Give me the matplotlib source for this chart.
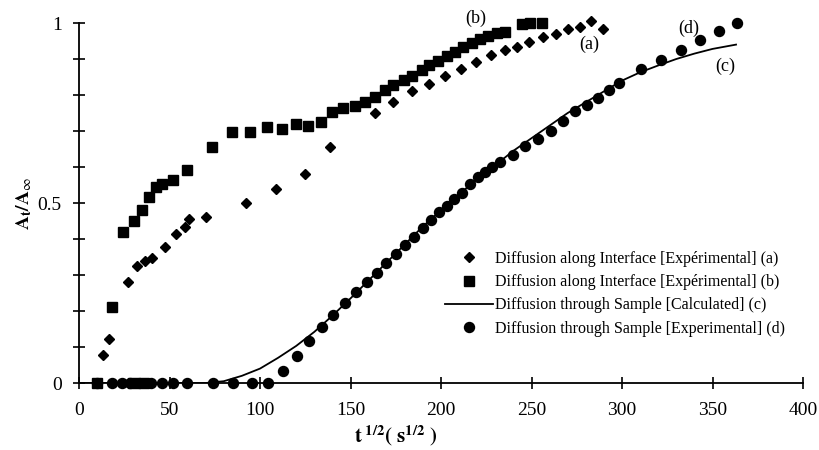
import matplotlib
matplotlib.use("Agg")
import matplotlib.pyplot as plt

plt.rcParams['font.family'] = ['Liberation Serif', 'DejaVu Serif']
plt.rcParams['mathtext.fontset'] = 'stix'

# (a) Diffusion along interface [experimental] - diamonds
a_x = [13.4, 16.6, 27.3, 32.2, 36.5, 40.5, 47.5, 53.4, 58.6, 60.8, 70.2, 92.1, 109.0,
       124.9, 138.7, 163.5, 173.7, 183.8, 193.6, 202.2, 210.9, 219.3, 227.4, 235.4,
       242.2, 248.5, 256.5, 263.5, 270.3, 276.9, 282.9, 289.7]
a_y = [0.078, 0.121, 0.28, 0.325, 0.34, 0.346, 0.377, 0.413, 0.434, 0.455, 0.462, 0.5,
       0.54, 0.58, 0.655, 0.75, 0.78, 0.81, 0.83, 0.853, 0.872, 0.893, 0.911, 0.925,
       0.934, 0.947, 0.962, 0.969, 0.982, 0.99, 1.005, 0.982]

# (b) Diffusion along interface [experimental] - squares
b_x = [10.0, 30.0, 36.0, 18.1, 24.5, 30.4, 34.6, 38.5, 42.5, 45.7, 52.1, 59.5, 73.6,
       84.7, 94.5, 103.7, 112.0, 119.9, 126.7, 133.5, 140.0, 146.0, 152.5, 158.0,
       163.5, 169.0, 173.7, 179.3, 183.8, 189.3, 193.6, 198.5, 203.2, 207.7, 212.3,
       216.9, 221.5, 226.1, 230.8, 235.4, 244.6, 249.0, 256.0]
b_y = [0.0, 0.0, 0.0, 0.21, 0.42, 0.451, 0.48, 0.518, 0.545, 0.552, 0.563, 0.592, 0.655,
       0.698, 0.698, 0.71, 0.705, 0.719, 0.714, 0.726, 0.752, 0.763, 0.769, 0.781,
       0.795, 0.814, 0.828, 0.842, 0.853, 0.869, 0.883, 0.895, 0.908, 0.92, 0.932,
       0.944, 0.955, 0.964, 0.971, 0.976, 0.997, 1.0, 1.0]

# (c) Diffusion through sample [calculated] - line
c_x = [0, 70, 80, 90, 100, 110, 120, 130, 140, 150, 160, 170, 180, 190, 200, 210, 220,
       230, 240, 250, 260, 270, 280, 290, 300, 310, 320, 330, 340, 350, 363]
c_y = [0.0, 0.0, 0.005, 0.02, 0.04, 0.07, 0.103, 0.142, 0.187, 0.235, 0.285, 0.335,
       0.385, 0.435, 0.48, 0.525, 0.565, 0.605, 0.645, 0.68, 0.715, 0.75, 0.78, 0.81,
       0.84, 0.863, 0.882, 0.9, 0.915, 0.928, 0.94]

# (d) Diffusion through sample [experimental] - circles
d_x = [10.0, 18.0, 23.5, 28.0, 33.0, 40.0, 45.7, 52.1, 59.5, 74.3, 85.3, 95.4, 104.6,
       112.5, 120.3, 127.2, 134.1, 140.5, 147.0, 153.0, 159.0, 164.5, 169.6, 175.1,
       180.1, 185.1, 189.9, 194.5, 198.9, 203.1, 207.3, 211.4, 216.0, 220.7, 224.3,
       228.0, 232.6, 239.6, 246.4, 253.8, 260.8, 267.2, 274.0, 280.5, 286.5, 292.8,
       298.5, 310.5, 321.5, 332.6, 343.3, 353.4, 363.5]
d_y = [0.0, 0.0, 0.0, 0.0, 0.0, 0.0, 0.0, 0.0, 0.0, 0.0, 0.0, 0.0, 0.0,
       0.033, 0.076, 0.117, 0.156, 0.189, 0.223, 0.252, 0.28, 0.306, 0.332, 0.358,
       0.383, 0.406, 0.43, 0.453, 0.474, 0.492, 0.511, 0.529, 0.552, 0.573, 0.587,
       0.601, 0.615, 0.633, 0.658, 0.677, 0.7, 0.729, 0.756, 0.772, 0.791, 0.814,
       0.833, 0.871, 0.897, 0.925, 0.953, 0.978, 1.0]

labels = ["Diffusion along Interface [Expérimental] (a)",
          "Diffusion along Interface [Expérimental] (b)",
          "Diffusion through Sample [Calculated] (c)",
          "Diffusion through Sample [Experimental] (d)"]

x_ticks = [0, 50, 100, 150, 200, 250, 300, 350, 400]
y_ticks_all = [0, 0.1, 0.2, 0.3, 0.4, 0.5, 0.6, 0.7, 0.8, 0.9, 1.0]
y_tick_labels = ['0', '', '', '', '', '0.5', '', '', '', '', '1']

fig = plt.figure(figsize=(8.19, 4.5), dpi=100)
ax = fig.add_axes([79/819, 67/450, 724/819, 360/450])

ha, = ax.plot(a_x, a_y, linestyle='none', marker='D', color='black', markersize=5.2,
              clip_on=False, zorder=3)
hb, = ax.plot(b_x, b_y, linestyle='none', marker='s', color='black', markersize=7.2,
              clip_on=False, zorder=3)
hc, = ax.plot(c_x, c_y, linestyle='-', color='black', linewidth=1.3, zorder=2)
hd, = ax.plot(d_x, d_y, linestyle='none', marker='o', color='black', markersize=7.2,
              clip_on=False, zorder=3)

ax.set_xlim(0, 400)
ax.set_ylim(0, 1)
for s in ['top', 'right']:
    ax.spines[s].set_visible(False)
for s in ['left', 'bottom']:
    ax.spines[s].set_linewidth(1.3)

ax.set_xticks(x_ticks)
ax.set_yticks(y_ticks_all)
ax.set_yticklabels(y_tick_labels)
ax.tick_params(axis='both', direction='inout', length=9, width=1.2, labelsize=14)
ax.tick_params(axis='x', pad=9)
ax.tick_params(axis='y', pad=8)

ax.set_xlabel(r'$\mathbf{t}^{\ \mathbf{1/2}}\mathbf{(\ s}^{\mathbf{1/2}}\mathbf{\ )}$', fontsize=15)
ax.xaxis.set_label_coords(0.438, -0.112)
ax.set_ylabel(r'$\mathbf{A}_{\mathbf{t}}\mathbf{/A}_{\infty}$', fontsize=14)
ax.yaxis.set_label_coords(-0.062, 0.5)

ax.text(282, 0.94, '(a)', fontsize=13, ha='center', va='center')
ax.text(219, 1.012, '(b)', fontsize=13, ha='center', va='center')
ax.text(357, 0.88, '(c)', fontsize=13, ha='center', va='center')
ax.text(337, 0.985, '(d)', fontsize=13, ha='center', va='center')

leg = ax.legend([ha, hb, hc, hd], labels, loc='upper left',
                bbox_to_anchor=(445/819, 1 - 251/450), bbox_transform=fig.transFigure,
                frameon=False, fontsize=11.5, handlelength=3.0, handletextpad=0.15,
                labelspacing=0.45, borderpad=0, borderaxespad=0)

fig.savefig('out.png', dpi=100)
